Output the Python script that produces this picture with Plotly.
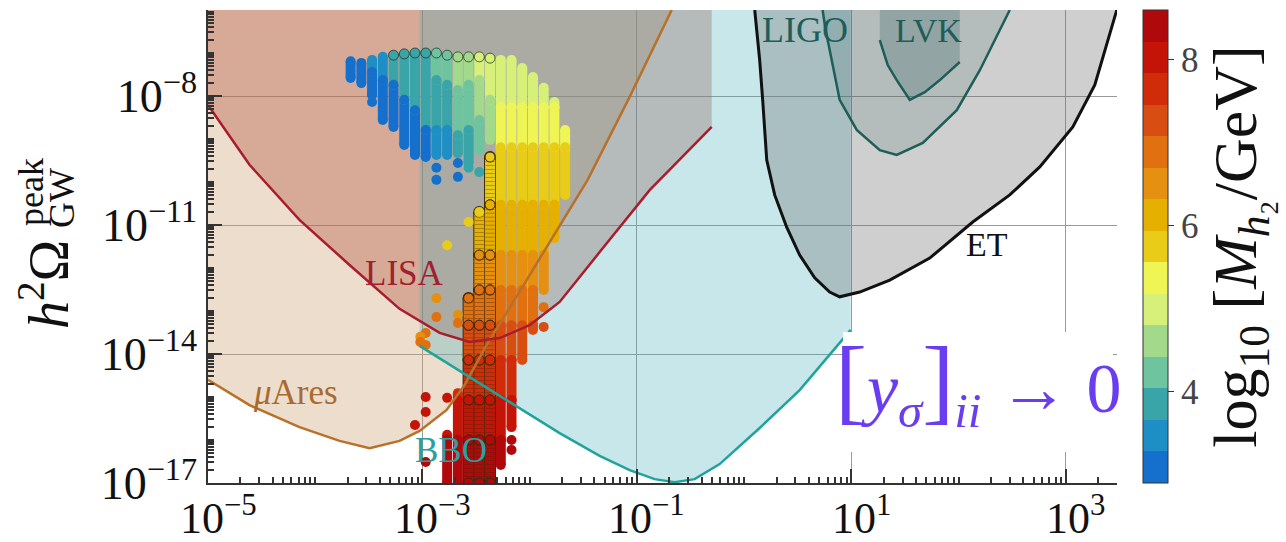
import math
import plotly.graph_objects as go

# ---------------- data (log10 units) ----------------
X_RANGE = [-5.0, 3.476]
Y_RANGE = [-17.0, -6.0]
TOP = -5.5

LISA_F = [-5.0, -4.613, -4.147, -3.68, -3.214, -2.84, -2.561, -2.28, -2.001, -1.721, -1.348, -0.882, -0.303]
LISA_O = [-8.21, -9.60, -10.88, -11.93, -12.95, -13.51, -13.72, -13.63, -13.33, -12.79, -11.63, -10.19, -8.72]

MUARES_F = [-5.0, -4.799, -4.613, -4.147, -3.773, -3.493, -3.214, -3.027, -2.775, -2.607, -2.402, -2.029, -1.46, -1.068, -0.676]
MUARES_O = [-14.60, -14.91, -15.19, -15.70, -16.02, -16.19, -16.02, -15.79, -15.30, -14.72, -13.79, -12.28, -9.95, -8.02, -6.0]

BBO_F = [-3.027, -2.28, -1.721, -1.348, -1.068, -0.835, -0.649, -0.462, -0.229, 0.144, 0.517, 0.993]
BBO_O = [-13.81, -14.98, -15.84, -16.37, -16.70, -16.91, -16.98, -16.91, -16.56, -15.72, -14.84, -13.44]

ET_F = [0.098, 0.144, 0.172, 0.21, 0.284, 0.396, 0.517, 0.657, 0.797, 0.89, 1.077, 1.357, 1.73, 2.131, 2.476, 2.756, 3.064, 3.269, 3.474]
ET_O = [-6.0, -7.16, -8.09, -9.49, -10.30, -11.05, -11.70, -12.23, -12.56, -12.67, -12.56, -12.28, -11.77, -10.93, -10.30, -9.65, -8.72, -7.74, -6.0]

LIGO_F = [0.731, 0.759, 0.797, 0.89, 1.049, 1.264, 1.422, 1.665, 1.982, 2.197, 2.476]
LIGO_O = [-6.0, -6.47, -6.93, -8.09, -8.79, -9.26, -9.37, -9.09, -8.33, -7.40, -6.0]

LVK_F = [1.264, 1.338, 1.422, 1.544, 1.684, 1.824, 2.01]
LVK_O = [-6.70, -7.28, -7.63, -8.09, -7.91, -7.63, -7.21]

# colour bar (log10 M_h2 / GeV), 15 discrete bands
CB_EDGES = [2.90, 3.28, 3.66, 4.04, 4.42, 4.80, 5.18, 5.56, 5.94, 6.32, 6.70, 7.08, 7.46, 7.84, 8.22, 8.60]
CB_COLORS = ["#1470cc", "#1e8fc4", "#3aa5a8", "#6fc4a0", "#a2d98a", "#d7f07a", "#eef555",
             "#e8cc18", "#e5b000", "#e59010", "#e07010", "#d84e12", "#d02c0a", "#c41408", "#b0090c"]
CB_TICKS = [4, 6, 8]

# axis tick labels
X_TICKS = [-5, -3, -1, 1, 3]
X_TICK_TEXT = ["10<sup>−5</sup>", "10<sup>−3</sup>", "10<sup>−1</sup>", "10<sup>1</sup>", "10<sup>3</sup>"]
Y_TICKS = [-17, -14, -11, -8]
Y_TICK_TEXT = ["10<sup>−17</sup>", "10<sup>−14</sup>", "10<sup>−11</sup>", "10<sup>−8</sup>"]

# upper cluster: explicit column segments (log f, top, bottom, log10 M)
SEG_F = [-3.67, -3.57, -3.47, -3.47, -3.37, -3.37, -3.27, -3.27, -3.17, -3.17, -3.07, -3.07,
         -2.97, -2.97, -2.87, -2.87, -2.87, -2.77, -2.77, -2.77, -2.67, -2.67, -2.67,
         -2.57, -2.57, -2.57, -2.47, -2.47, -2.47, -2.37, -2.37]
SEG_TOP = [-7.19, -7.23, -7.16, -7.44, -7.09, -7.63, -7.05, -7.74, -7.02, -8.09, -7.00, -8.33,
           -7.00, -8.79, -7.00, -7.63, -8.79, -7.05, -7.74, -8.79, -7.09, -7.86, -8.91,
           -7.09, -7.74, -8.79, -7.09, -7.63, -8.56, -7.12, -8.09]
SEG_BOT = [-7.58, -7.70, -7.44, -7.98, -7.63, -8.56, -7.74, -8.72, -8.09, -9.14, -8.33, -9.37,
           -8.79, -9.42, -7.63, -8.79, -9.37, -7.74, -8.79, -9.37, -7.86, -8.91, -9.33,
           -7.74, -8.79, -9.56, -7.63, -8.56, -9.26, -8.09, -9.02]
SEG_M = [3.1, 3.2, 3.5, 3.1, 3.5, 3.1, 3.8, 3.1, 3.8, 3.1, 3.8, 3.1,
         3.8, 3.1, 4.2, 3.8, 3.4, 4.2, 3.8, 3.4, 4.6, 4.2, 3.8,
         4.6, 4.2, 3.8, 5.0, 4.6, 4.2, 5.0, 4.6]

# lower columns: extents; colour follows the y bands below
LOW_F = [-2.27, -2.17, -2.07, -1.97, -1.87, -1.77, -1.67, -2.67, -2.77]
LOW_TOP = [-7.16, -7.16, -7.35, -7.56, -7.81, -8.14, -8.79, -14.91, -15.88]
LOW_BOT = [-16.58, -15.70, -14.14, -13.44, -12.51, -11.30, -10.30, -17.0, -17.0]
# black-edged dense columns
EDGE_F = [-2.37, -2.47, -2.57]
EDGE_TOP = [-9.42, -10.70, -12.70]
EDGE_BOT = [-17.0, -17.0, -17.0]

Y_BAND_TOP = [-6.0, -8.26, -9.19, -10.53, -11.70, -12.51, -13.33, -14.14, -15.07, -16.00]
Y_BAND_BOT = [-8.26, -9.19, -10.53, -11.70, -12.51, -13.33, -14.14, -15.07, -16.00, -17.5]
Y_BAND_M = [5.0, 5.4, 5.75, 6.1, 6.5, 6.9, 7.3, 7.65, 8.0, 8.4]

# isolated points
DOT_F = [-3.47, -2.87, -2.87, -2.67, -2.67, -2.57, -2.47, -2.77, -2.57, -2.47,
         -2.87, -2.87, -2.97, -2.97, -2.67, -2.67, -2.97, -2.97, -3.07, -2.97, -2.77,
         -1.87, -1.87, -2.17, -2.17, -3.02, -3.02]
DOT_O = [-8.14, -9.67, -9.95, -9.56, -9.88, -9.67, -9.77, -11.47, -10.93, -10.70,
         -12.70, -13.14, -13.51, -13.79, -13.09, -13.28, -15.00, -15.35, -15.65, -16.51, -15.02,
         -12.91, -13.37, -16.00, -16.23, -13.60, -13.72]
DOT_M = [3.1, 3.1, 3.1, 3.1, 3.1, 3.8, 3.8, 5.9, 5.9, 5.9,
         6.5, 6.7, 6.9, 6.9, 6.5, 6.7, 8.0, 8.0, 8.0, 8.4, 8.0,
         6.9, 7.3, 8.4, 8.4, 6.5, 6.9]

# ---------------- helpers ----------------
def P(v):
    return [None if a is None else 10 ** a for a in v]

def band_index(m):
    for i in range(len(CB_COLORS)):
        if m < CB_EDGES[i + 1]:
            return i
    return len(CB_COLORS) - 1

W, H = 1286, 542
L, R, T, B = 208, 169, 10, 59
PW, PH = W - L - R, H - T - B

def px(x):
    return (x - L) / PW

def py(y):
    return (H - B - y) / PH

fig = go.Figure()

def fill(xs, ys, color):
    fig.add_trace(go.Scatter(x=P(xs), y=P(ys), mode="lines", fill="toself", fillcolor=color,
                             line=dict(width=0), hoverinfo="skip", showlegend=False))

fill(MUARES_F + [MUARES_F[-1], -5.0], MUARES_O + [TOP, TOP], "rgba(205,165,120,0.38)")
fill(LISA_F + [LISA_F[-1], -5.0], LISA_O + [TOP, TOP], "rgba(179,75,55,0.35)")
fill(BBO_F + [BBO_F[-1], BBO_F[0]], BBO_O + [TOP, TOP], "rgba(70,175,190,0.30)")
fill(ET_F + [ET_F[-1], ET_F[0]], ET_O + [TOP, TOP], "rgba(110,110,110,0.33)")
fill(LIGO_F + [LIGO_F[-1], LIGO_F[0]], LIGO_O + [TOP, TOP], "rgba(30,80,80,0.15)")
fill(LVK_F + [LVK_F[-1], LVK_F[0]], LVK_O + [TOP, TOP], "rgba(30,80,80,0.22)")

# ---- scatter scan ----
segs = []  # (f, top, bot, m, edged)
for f, t, b, m in zip(SEG_F, SEG_TOP, SEG_BOT, SEG_M):
    segs.append((f, t, b, m, False))

def banded(f, t, b, edged):
    for bt, bb, m in zip(Y_BAND_TOP, Y_BAND_BOT, Y_BAND_M):
        tt, bb2 = min(t, bt), max(b, bb)
        if tt > bb2:
            segs.append((f, tt, bb2, m, edged))

for f, t, b in zip(LOW_F, LOW_TOP, LOW_BOT):
    banded(f, t, b, False)
for f, t, b in zip(EDGE_F, EDGE_TOP, EDGE_BOT):
    banded(f, t, b, True)
for f, o, m in zip(DOT_F, DOT_O, DOT_M):
    segs.append((f, o, o, m, False))

MS = 10
DARK = "#3b2a08"
ex, ey = [], []
for f, t, b, m, e in segs:
    if e:
        ex += [f, f, None]; ey += [t, b, None]
fig.add_trace(go.Scatter(x=P(ex), y=P(ey), mode="lines+markers",
                         line=dict(color=DARK, width=MS + 2),
                         marker=dict(size=MS + 2, color=DARK),
                         hoverinfo="skip", showlegend=False))

for i, col in enumerate(CB_COLORS):
    xs, ys = [], []
    for f, t, b, m, e in segs:
        if band_index(m) == i:
            xs += [f, f, None]; ys += [t, b, None]
    if xs:
        fig.add_trace(go.Scatter(x=P(xs), y=P(ys), mode="lines",
                                 line=dict(color=col, width=MS),
                                 hoverinfo="skip", showlegend=False))

fig.add_trace(go.Scatter(x=P(ex), y=P(ey), mode="lines", opacity=0.35,
                         line=dict(color=DARK, width=MS - 1, dash="1px,3px"),
                         hoverinfo="skip", showlegend=False))

top_of = {}
for f, t in zip(SEG_F, SEG_TOP):
    top_of[f] = max(top_of.get(f, -99), t)
mx, my, mc, ml = [], [], [], []
for f, t, b, m, e in segs:
    for v in ([t, b] if t != b else [t]):
        mx.append(f); my.append(v); mc.append(m)
        if e:
            ml.append(DARK)
        elif f >= -3.27 and top_of.get(f) == v:
            ml.append("rgba(30,40,20,0.7)")
        else:
            ml.append("rgba(0,0,0,0)")
fig.add_trace(go.Scatter(x=P(mx), y=P(my), mode="markers",
                         marker=dict(size=MS, color=mc, coloraxis="coloraxis",
                                     line=dict(color=ml, width=1)),
                         hoverinfo="skip", showlegend=False))

# ---- curves ----
def curve(xs, ys, color, w):
    fig.add_trace(go.Scatter(x=P(xs), y=P(ys), mode="lines", line=dict(color=color, width=w),
                             hoverinfo="skip", showlegend=False))

curve(MUARES_F, MUARES_O, "#b8702a", 2.5)
curve(LISA_F, LISA_O, "#a81c2c", 2.5)
curve(BBO_F, BBO_O, "#1fa39b", 2.5)
curve(LIGO_F, LIGO_O, "#1d5e58", 2.5)
curve(LVK_F, LVK_O, "#1d5e58", 2.5)
curve(ET_F, ET_O, "#111111", 3)

# ---- colour axis ----
cs = []
n = len(CB_COLORS)
for i, c in enumerate(CB_COLORS):
    cs.append([i / n, c]); cs.append([(i + 1) / n, c])

SERIF = "Liberation Serif"
minor_x = [m * 10 ** e for e in range(-5, 4) for m in range(1, 10)
           if e + math.log10(m) <= X_RANGE[1]]
minor_y = [m * 10 ** e for e in range(-17, -6) for m in range(1, 10)]

fig.update_layout(
    width=W, height=H, margin=dict(l=L, r=R, t=T, b=B, autoexpand=False),
    paper_bgcolor="white", plot_bgcolor="white",
    coloraxis=dict(cmin=CB_EDGES[0], cmax=CB_EDGES[-1], colorscale=cs,
                   colorbar=dict(x=px(1143), xanchor="left", y=0.5, yanchor="middle", len=1, lenmode="fraction",
                                 ypad=0, xpad=0, thickness=25, outlinewidth=1, outlinecolor="#333",
                                 tickvals=CB_TICKS, ticktext=[str(t) for t in CB_TICKS],
                                 ticks="outside", ticklen=6, tickcolor="#333",
                                 tickfont=dict(family=SERIF, size=35, color="#444"),
                                 title=dict(text="log<sub>10</sub> [<i>M</i><sub><i>h</i>₂</sub>/GeV]",
                                            side="right", font=dict(family=SERIF, size=62, color="#111")))),
    xaxis=dict(type="log", range=X_RANGE, tickmode="array", tickvals=[10 ** v for v in X_TICKS],
               showticklabels=False,
               ticks="inside", ticklen=14, tickwidth=1.5, tickcolor="#333",
               showline=True, linecolor="#333", linewidth=1.5, mirror=False,
               showgrid=True, gridcolor="#9a9a9a", gridwidth=1, zeroline=False,
               minor=dict(tickmode="array", tickvals=minor_x, ticks="inside", ticklen=6,
                          tickcolor="#333", showgrid=False)),
    yaxis=dict(type="log", range=Y_RANGE, tickmode="array", tickvals=[10 ** v for v in Y_TICKS],
               ticktext=Y_TICK_TEXT,
               tickfont=dict(family=SERIF, size=46, color="#111"),
               ticks="inside", ticklen=14, tickwidth=1.5, tickcolor="#333",
               showline=True, linecolor="#333", linewidth=1.5, mirror=False,
               showgrid=True, gridcolor="#9a9a9a", gridwidth=1, zeroline=False,
               minor=dict(tickmode="array", tickvals=minor_y, ticks="inside", ticklen=6,
                          tickcolor="#333", showgrid=False)),
)

for v, t in zip(X_TICKS, X_TICK_TEXT):
    fig.add_annotation(text=t, xref="x", yref="paper", x=v, y=py(486), showarrow=False,
                       xanchor="center", yanchor="top", xshift=10,
                       font=dict(family=SERIF, size=44, color="#111"))

fig.add_shape(type="rect", xref="paper", yref="paper", x0=px(843), x1=px(1113), y0=py(452), y1=py(332),
              fillcolor="white", line=dict(width=0), layer="above")

def ann(text, x, y, size, color, angle=0, xa="center", ya="middle"):
    fig.add_annotation(text=text, xref="paper", yref="paper", x=px(x), y=py(y), showarrow=False,
                       font=dict(family=SERIF, size=size, color=color), textangle=angle,
                       xanchor=xa, yanchor=ya)

ann("LISA", 404, 273, 35, "#a0202e")
ann("<i>μ</i>Ares", 295, 392, 35, "#a86a30")
ann("BBO", 451, 450, 35, "#2aa0a0")
ann("LIGO", 805, 30, 36, "#1d5e58")
ann("LVK", 928, 30, 34, "#1d5e58")
ann("ET", 987, 244, 34, "#111111")
ann("<span style='font-size:96px'>[</span><i>y</i><sub><i>σ</i></sub>"
    "<span style='font-size:96px'>]</span><sub><i>ii</i></sub> → 0", 978, 382, 70, "#6a3df0")

ann("<i>h</i><sup>2</sup>Ω", 45, 285, 56, "#111", angle=-90)
ann("GW", 62, 198, 36, "#111", angle=-90)
ann("peak", 31, 192, 36, "#111", angle=-90)

fig.write_html("out.html")
